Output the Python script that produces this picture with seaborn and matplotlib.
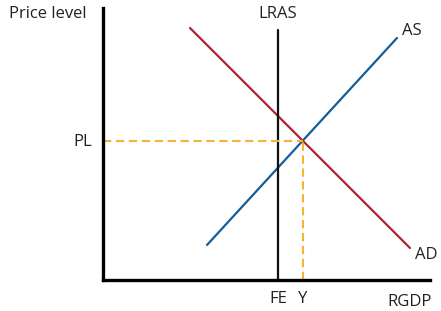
import numpy as np
import pandas as pd
import matplotlib.pyplot as plt
import seaborn as sns

# schematic AD/AS diagram, values in axis units (origin at the corner)
as_x = [104, 294]
as_y = [35, 242]
ad_x = [87, 307]
ad_y = [252, 32]
lras_x = [175, 175]
lras_y = [0, 250]
pl = 139.5
y_eq = 200
fe = 175

sns.set_style("white")
plt.rcParams['font.family'] = ['Open Sans', 'DejaVu Sans']

fig = plt.figure(figsize=(4.41, 3.11), dpi=100)
ax = fig.add_axes([103/441, 31/311, 327/441, 272/311])
ax.set_xlim(0, 327)
ax.set_ylim(0, 272)

df = pd.DataFrame({'x': as_x + ad_x + lras_x,
                   'y': as_y + ad_y + lras_y,
                   'curve': ['AS']*2 + ['AD']*2 + ['LRAS']*2})
sns.lineplot(data=df, x='x', y='y', hue='curve', sort=False, legend=False,
             estimator=None, units='curve',
             palette={'AS': '#135e96', 'AD': '#b3232e', 'LRAS': '#111111'},
             linewidth=1.6, ax=ax)

ax.plot([0, y_eq], [pl, pl], color='#f9b233', ls=(0, (4, 2.2)), lw=1.5)
ax.plot([y_eq, y_eq], [0, pl], color='#f9b233', ls=(0, (4, 2.2)), lw=1.5)

for s in ['top', 'right']:
    ax.spines[s].set_visible(False)
for s in ['left', 'bottom']:
    ax.spines[s].set_linewidth(2.4)
    ax.spines[s].set_color('black')

fs = 12
ax.set_xticks([fe, y_eq], ['FE', 'Y'])
ax.set_yticks([pl], ['PL'])
ax.tick_params(length=0, labelsize=fs, colors='#222222', pad=8)
ax.set_xlabel('')
ax.set_ylabel('')

fig.text(48/441, 1 - 14/311, 'Price level', ha='center', va='center', fontsize=fs, color='#222222')
fig.text(278/441, 1 - 14/311, 'LRAS', ha='center', va='center', fontsize=fs, color='#222222')
fig.text(412/441, 1 - 31/311, 'AS', ha='center', va='center', fontsize=fs, color='#222222')
fig.text(426/441, 1 - 255/311, 'AD', ha='center', va='center', fontsize=fs, color='#222222')
fig.text(410/441, 1 - 302/311, 'RGDP', ha='center', va='center', fontsize=fs, color='#222222')

fig.savefig('out.png', dpi=100)
